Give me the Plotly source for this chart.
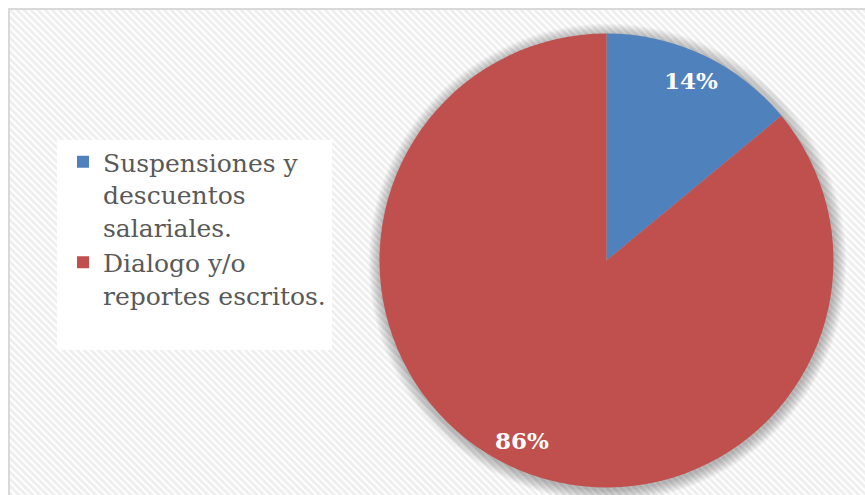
import math
import plotly.graph_objects as go

# Data
categories = ["Suspensiones y<br>descuentos<br>salariales.", "Dialogo y/o<br>reportes escritos."]
values = [14, 86]
colors = ["#4f81bd", "#c0504d"]

W, H = 865, 495
# pie geometry in pixels
cx, cy, R = 606.5, 260.5, 227.0

fig = go.Figure()

fig.add_trace(go.Pie(
    labels=categories,
    values=values,
    marker=dict(colors=colors, line=dict(width=0)),
    sort=False,
    direction="clockwise",
    rotation=0,
    textinfo="none",
    hoverinfo="label+percent",
    domain=dict(x=[(cx - R) / W, (cx + R) / W], y=[1 - (cy + R) / H, 1 - (cy - R) / H]),
))

# percentage labels placed along each slice's bisector
total = sum(values)
annotations = []
start = 0.0
for v in values:
    mid = (start + v / 2) / total * 2 * math.pi
    start += v
    r = 0.875 * R
    annotations.append(dict(
        x=cx + r * math.sin(mid), y=cy - r * math.cos(mid),
        xref="x", yref="y", text=f"<b>{v / total * 100:.0f}%</b>", showarrow=False,
        font=dict(family="DejaVu Serif", size=23, color="white"),
    ))

shapes = []
# hatched chart background
x0, y0, x1, y1 = 9, 9, W + 5, H + 5
parts = []
step = 7
b = -(x1 - y0)
while b < (y1 - x0):
    # line y = x + b clipped to the box
    xa = max(x0, y0 - b)
    xb = min(x1, y1 - b)
    if xb > xa:
        parts.append(f"M{xa},{xa + b}L{xb},{xb + b}")
    b += step
shapes.append(dict(type="path", path="".join(parts), xref="x", yref="y",
                   line=dict(color="#efefef", width=3), layer="below"))
# chart border
shapes.append(dict(type="rect", x0=9, y0=9, x1=W + 20, y1=H + 20, xref="x", yref="y",
                   line=dict(color="#d9d9d9", width=2), fillcolor="rgba(0,0,0,0)", layer="below"))
# soft shadow around the pie
for i in range(12, 0, -1):
    rr = R + i
    shapes.append(dict(type="circle", xref="x", yref="y",
                       x0=cx + 1 - rr, x1=cx + 1 + rr, y0=cy + 2 - rr, y1=cy + 2 + rr,
                       fillcolor="rgba(0,0,0,0.022)", line=dict(width=0), layer="below"))
# legend panel
shapes.append(dict(type="rect", x0=57, y0=140, x1=332, y1=350, xref="x", yref="y",
                   fillcolor="white", line=dict(width=0), layer="below"))

fig.update_layout(
    width=W, height=H,
    margin=dict(l=0, r=0, t=0, b=0),
    paper_bgcolor="white", plot_bgcolor="white",
    xaxis=dict(range=[0, W], visible=False, fixedrange=True),
    yaxis=dict(range=[H, 0], visible=False, fixedrange=True),
    shapes=shapes,
    annotations=annotations,
    showlegend=True,
    legend=dict(
        x=63 / W, y=1 - 139 / H, xanchor="left", yanchor="top",
        bgcolor="rgba(0,0,0,0)", valign="top", tracegroupgap=0,
        font=dict(family="DejaVu Serif", size=25, color="#595959"),
    ),
)

fig.write_html("out.html")
